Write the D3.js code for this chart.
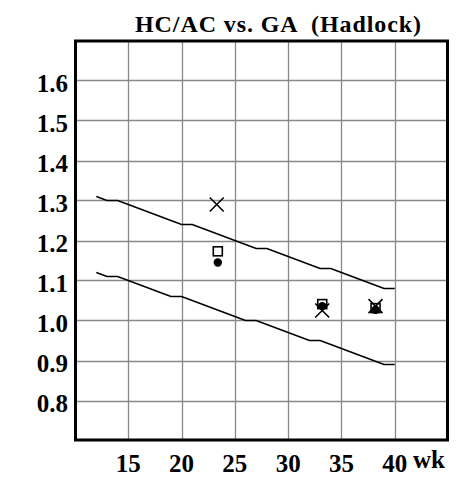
<!DOCTYPE html>
<html>
<head>
<meta charset="utf-8">
<script src="https://cdn.jsdelivr.net/npm/d3@7"></script>
<style>
  body { margin: 0; background: #fff; }
  text { font-family: "Liberation Serif", "Times New Roman", serif; font-weight: bold; fill: #000; }
</style>
</head>
<body>
<div id="chart"></div>
<script>
// reference band, HC/AC by gestational week
const weeks = [12,13,14,15,16,17,18,19,20,21,22,23,24,25,26,27,28,29,30,31,32,33,34,35,36,37,38,39,40]
const upperBand = [1.31,1.30,1.30,1.29,1.28,1.27,1.26,1.25,1.24,1.24,1.23,1.22,1.21,1.20,1.19,1.18,1.18,1.17,1.16,1.15,1.14,1.13,1.13,1.12,1.11,1.10,1.09,1.08,1.08]
const lowerBand = [1.12,1.11,1.11,1.10,1.09,1.08,1.07,1.06,1.06,1.05,1.04,1.03,1.02,1.01,1.00,1.00,0.99,0.98,0.97,0.96,0.95,0.95,0.94,0.93,0.92,0.91,0.90,0.89,0.89]

// measurements: [week, ratio]
const crossPoints = [[23.3, 1.29], [33.2, 1.025], [38.2, 1.036]]
const squarePoints = [[23.4, 1.173], [33.2, 1.041], [38.2, 1.031]]
const dotPoints = [[23.4, 1.145], [33.2, 1.036], [38.2, 1.027]]

const xTicks = [15, 20, 25, 30, 35, 40]
const yTicks = [0.8, 0.9, 1.0, 1.1, 1.2, 1.3, 1.4, 1.5, 1.6]

const width = 458, height = 477

const svg = d3.select("#chart").append("svg")
  .attr("width", width)
  .attr("height", height)

const x = d3.scaleLinear().domain([10, 45]).range([75, 448])
const y = d3.scaleLinear().domain([0.7, 1.7]).range([440.5, 40.5])

// grid, drawn as one path
const gridPath = d3.path()
for (const t of xTicks) {
  const px = Math.round(x(t)) + 0.5
  gridPath.moveTo(px, y.range()[0])
  gridPath.lineTo(px, y.range()[1])
}
for (const t of yTicks) {
  const py = Math.round(y(t)) + 0.5
  gridPath.moveTo(x.range()[0], py)
  gridPath.lineTo(x.range()[1], py)
}
svg.append("path")
  .attr("d", gridPath.toString())
  .attr("fill", "none")
  .attr("stroke", "#888888")
  .attr("stroke-width", 1.3)

// tick labels
svg.append("g")
  .selectAll("text")
  .data(yTicks)
  .join("text")
  .attr("x", x.range()[0] - 7)
  .attr("y", d => y(d) + 11)
  .attr("text-anchor", "end")
  .style("font-size", "25px")
  .text(d => d.toFixed(1))

svg.append("g")
  .selectAll("text")
  .data(xTicks)
  .join("text")
  .attr("x", d => x(d))
  .attr("y", 472)
  .attr("text-anchor", "middle")
  .style("font-size", "25px")
  .text(d => d)

svg.append("text")
  .attr("x", 413)
  .attr("y", 468)
  .style("font-size", "25px")
  .text("wk")

svg.append("text")
  .attr("x", 278)
  .attr("y", 32)
  .attr("text-anchor", "middle")
  .attr("textLength", 286)
  .attr("lengthAdjust", "spacing")
  .style("font-size", "24px")
  .style("white-space", "pre")
  .text("HC/AC vs. GA  (Hadlock)")

// band lines
const line = d3.line().x(d => x(d[0])).y(d => y(d[1]))
for (const band of [upperBand, lowerBand]) {
  svg.append("path")
    .datum(weeks.map((w, i) => [w, band[i]]))
    .attr("fill", "none")
    .attr("stroke", "#000")
    .attr("stroke-width", 1.5)
    .attr("d", line)
}

// markers
const marks = svg.append("g")

marks.selectAll("rect")
  .data(squarePoints)
  .join("rect")
  .attr("x", d => x(d[0]) - 4.5)
  .attr("y", d => y(d[1]) - 4.5)
  .attr("width", 9)
  .attr("height", 9)
  .attr("fill", "#fff")
  .attr("stroke", "#000")
  .attr("stroke-width", 1.6)

marks.selectAll("circle")
  .data(dotPoints)
  .join("circle")
  .attr("cx", d => x(d[0]))
  .attr("cy", d => y(d[1]))
  .attr("r", 4.2)
  .attr("fill", "#000")

const cross = d3.symbol().type(d3.symbolTimes).size(130)
marks.selectAll("path")
  .data(crossPoints)
  .join("path")
  .attr("transform", d => `translate(${x(d[0])},${y(d[1])})`)
  .attr("d", cross)
  .attr("fill", "none")
  .attr("stroke", "#000")
  .attr("stroke-width", 1.6)

// frame
svg.append("rect")
  .attr("x", x.range()[0] + 0.5)
  .attr("y", y.range()[1] + 0.5)
  .attr("width", x.range()[1] - x.range()[0] - 1)
  .attr("height", y.range()[0] - y.range()[1] - 1)
  .attr("fill", "none")
  .attr("stroke", "#000")
  .attr("stroke-width", 3)
</script>
</body>
</html>
